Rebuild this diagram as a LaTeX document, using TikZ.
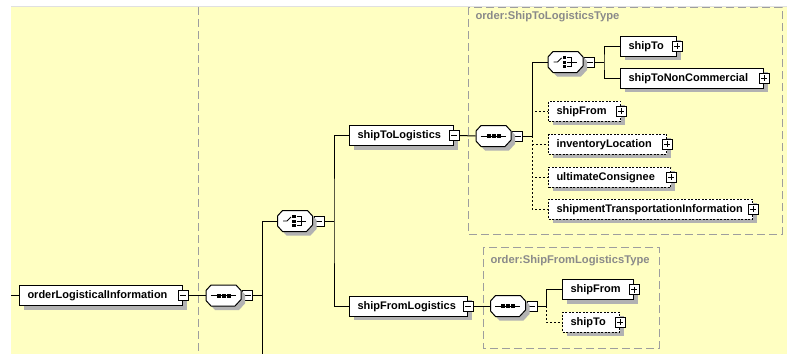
\documentclass[tikz,border=0pt]{standalone}
\usepackage{fontspec}
\setmainfont{Liberation Sans}
\usepackage{xcolor}
\usepackage{tikz}
\usetikzlibrary{shadows}

\definecolor{bgyellow}{RGB}{255,255,194}
\definecolor{boxgray}{RGB}{158,158,158}
\definecolor{typegray}{RGB}{138,138,138}
\definecolor{shadowgray}{RGB}{178,178,178}

\begin{document}
\begin{tikzpicture}[x=1pt,y=-1pt,line width=1pt]

        \tikzstyle{shade}=[drop shadow={shadow xshift=4pt,shadow yshift=-4pt,fill=shadowgray,opacity=1}]
        \tikzset{elem/.style={draw,fill=white,anchor=west,minimum height=20pt,inner xsep=8pt,inner ysep=0pt,
            text width=#1-16pt,align=left,text height=8.5pt,text depth=2.5pt,
            font=\bfseries\fontsize{11}{13}\selectfont,shade}}
        \tikzstyle{optional}=[dash pattern=on 2pt off 1.5pt]
        \tikzstyle{optline}=[dash pattern=on 2pt off 2pt]
        \tikzstyle{comp}=[minimum width=35pt,minimum height=21pt,inner sep=0pt]
        \tikzstyle{xbox}=[draw,fill=white,minimum size=10pt,inner sep=0pt,line width=0.8pt]
        \tikzstyle{xminus}=[xbox,path picture={\draw[line width=0.8pt] ([xshift=2pt]path picture bounding box.west) -- ([xshift=-2pt]path picture bounding box.east);}]
        \tikzstyle{xplus}=[xbox,path picture={\draw[line width=0.8pt] ([xshift=2pt]path picture bounding box.west) -- ([xshift=-2pt]path picture bounding box.east)
            ([yshift=-2pt]path picture bounding box.north) -- ([yshift=2pt]path picture bounding box.south);}]
        \tikzstyle{typebox}=[boxgray,line width=1pt,dash pattern=on 8pt off 4pt]
        \tikzstyle{typelabel}=[anchor=west,inner sep=0pt,typegray,font=\bfseries\fontsize{11.2}{13}\selectfont]

        % octagon of a compositor, with its shadow
        \def\compshape{(-17.5,-5) -- (-12.5,-10.5) -- (12.5,-10.5) -- (17.5,-5) -- (17.5,4) -- (11.5,10.5) -- (-12.5,10.5) -- (-17.5,5) -- cycle}
        \def\seqicon#1{\begin{scope}[shift={(#1.center)}]
            \fill[shadowgray,shift={(4,4)}] \compshape;
            \filldraw[fill=white] \compshape;
            \draw (-13,0) -- (12,0);
            \foreach \i in {-5,0,5} \fill (\i-2,-2) rectangle (\i+2,2);
        \end{scope}}
        \def\choiceicon#1{\begin{scope}[shift={(#1.center)}]
            \fill[shadowgray,shift={(4,4)}] \compshape;
            \filldraw[fill=white] \compshape;
            \draw[line width=0.9pt] (-12,0) -- (-8,0) -- (-4,-4);
            \foreach \j in {-6,-1.5,3} \fill (-3,\j) rectangle (0.5,\j+3);
            \draw[line width=0.9pt] (1.5,-4.5) -- (6,-4.5) -- (6,4.5) -- (1.5,4.5) (1.5,0) -- (11,0);
        \end{scope}}

        \useasboundingbox (0,0) rectangle (787,354);

        %% background
        \fill[bgyellow] (11,7) rectangle (787,354);
        \draw[black!12] (11,6.5) -- (787,6.5);
        \draw[typebox] (198,7) -- (198,354);

        %% type boxes
        \draw[typebox] (468,7) rectangle (782,234);
        \node[typelabel] (totype) at (475,17) {order:ShipToLogisticsType};
        \draw[typebox] (483,247) rectangle (659,348);
        \node[typelabel] (fromtype) at (490,261) {order:ShipFromLogisticsType};

        %% root element and its compositors
        \node[elem=163pt] (oli) at (19,295.5) {orderLogisticalInformation};
        \node[xminus] (oli-x) at (oli.east) {};
        \node[comp] (seq1) at (223.5,295.5) {};
        \node[xminus] (seq1-x) at ([xshift=6pt]seq1.east) {};
        \node[comp] (cho1) at (295,221) {};
        \node[xminus] (cho1-x) at ([xshift=6pt]cho1.east) {};
        \seqicon{seq1}
        \choiceicon{cho1}

        \node[elem=104pt] (stl) at (349,135.5) {shipToLogistics};
        \node[xminus] (stl-x) at (stl.east) {};
        \node[elem=118pt] (sfl) at (349,306) {shipFromLogistics};
        \node[xminus] (sfl-x) at (sfl.east) {};

        %% ShipToLogisticsType
        \node[comp] (seq2) at (493.5,136) {};
        \node[xminus] (seq2-x) at ([xshift=6pt]seq2.east) {};
        \node[comp] (cho2) at (565.5,62) {};
        \node[xminus] (cho2-x) at ([xshift=6pt]cho2.east) {};
        \seqicon{seq2}
        \choiceicon{cho2}

        \node[elem=56pt] (shipto) at (620,46) {shipTo};
        \node[xplus] (shipto-x) at (shipto.east) {};
        \node[elem=143pt] (shiptonc) at (620,78) {shipToNonCommercial};
        \node[xplus] (shiptonc-x) at (shiptonc.east) {};
        \node[elem=72pt,optional] (shipfrom) at (548,111) {shipFrom};
        \node[xplus] (shipfrom-x) at (shipfrom.east) {};
        \node[elem=118pt,optional] (invloc) at (548,144) {inventoryLocation};
        \node[xplus] (invloc-x) at (invloc.east) {};
        \node[elem=122pt,optional] (ultcon) at (548,177) {ultimateConsignee};
        \node[xplus] (ultcon-x) at (ultcon.east) {};
        \node[elem=204pt,optional] (shiptrans) at (548,209) {shipmentTransportationInformation};
        \node[xplus] (shiptrans-x) at (shiptrans.east) {};

        %% ShipFromLogisticsType
        \node[comp] (seq3) at (508,306) {};
        \node[xminus] (seq3-x) at ([xshift=6pt]seq3.east) {};
        \seqicon{seq3}
        \node[elem=71pt] (shipfrom2) at (562,289.5) {shipFrom};
        \node[xplus] (shipfrom2-x) at (shipfrom2.east) {};
        \node[elem=57pt,optional] (shipto2) at (562,322) {shipTo};
        \node[xplus] (shipto2-x) at (shipto2.east) {};

        %% junctions
        \coordinate (in) at (11,295.5);
        \coordinate (j1) at (262,295.5);
        \coordinate (j1-end) at (262,354);
        \coordinate (j2) at (334,221);
        \coordinate (j3) at (532,136);
        \coordinate (j4) at (604,62);
        \coordinate (j5) at (546,306);

        %% connectors
        \draw (in) -- (oli.west);
        \draw (oli-x.east) -- (seq1.west);
        \draw (seq1-x.east) -- (j1) |- (cho1.west);
        \draw (j1) -- (j1-end);
        \draw (cho1-x.east) -- (j2);
        \draw (stl.west) -| (j2) |- (sfl.west);
        \draw (stl-x.east) -- (seq2.west);
        \draw (seq2-x.east) -- (j3);
        \draw[optline] (j3) |- (shipfrom.west);
        \draw[optline] (j3) |- (invloc.west);
        \draw[optline] (j3) |- (ultcon.west);
        \draw[optline] (j3) |- (shiptrans.west);
        \draw (cho2.west) -| (j3);
        \draw (cho2-x.east) -- (j4);
        \draw (shipto.west) -| (j4) |- (shiptonc.west);
        \draw (sfl-x.east) -- (seq3.west);
        \draw (seq3-x.east) -- (j5);
        \draw (shipfrom2.west) -| (j5);
        \draw[optline] (j5) |- (shipto2.west);

\end{tikzpicture}
\end{document}
